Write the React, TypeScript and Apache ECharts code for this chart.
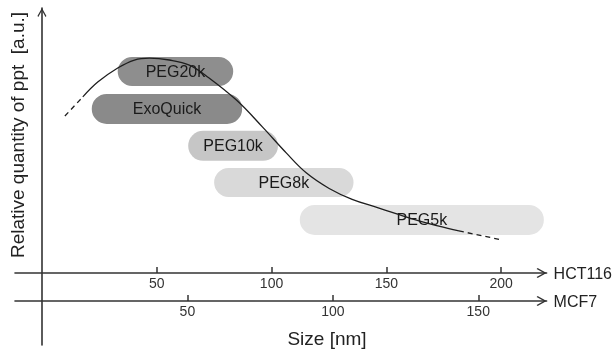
import React, { useEffect, useRef } from 'react';
import * as echarts from 'echarts';

// Bands (sizes in nm, read on the HCT116 scale; heights in a.u.)
const bandLabels = ['PEG20k', 'ExoQuick', 'PEG10k', 'PEG8k', 'PEG5k'];
const bandStart = [33.0, 21.7, 63.7, 75.0, 112.3];
const bandEnd = [83.3, 87.2, 102.8, 135.7, 218.6];
const bandTop = [81.5, 67.6, 53.7, 39.7, 25.8];
const bandBottom = [70.6, 56.3, 42.4, 28.8, 14.5];

// Precipitation curve (size in nm on HCT116 scale, relative quantity a.u.)
const curveX = [10.0, 17.8, 24.3, 33.0, 40.3, 46.8, 55.5, 64.2, 71.6, 84.7, 96.0, 106.4, 115.1, 125.1, 135.1, 146.8, 154.2, 164.2, 172.9, 181.6, 200.3];
const curveY = [59.3, 66.5, 72.1, 77.4, 80.4, 81.1, 80.4, 78.5, 74.4, 65.3, 55.2, 45.4, 37.9, 32.0, 27.9, 24.6, 22.5, 19.8, 17.8, 16.0, 12.6];

const hctTicks = [50, 100, 150, 200];
const mcfTicks = [50, 100, 150];

const bandColors = ['#8e8e8e', '#8a8a8a', '#c6c6c6', '#d9d9d9', '#e4e4e4'];
const FONT = '"Liberation Sans", Arial, sans-serif';
const AX = '#333333';
const CHEVRON = 'path://M0,9 L5,0 L10,9 L9,10 L5,2.8 L1,10 Z';

export default function App() {
  const ref = useRef<HTMLDivElement>(null);
  useEffect(() => {
    if (!ref.current) return;
    const chart = echarts.init(ref.current, undefined, { renderer: 'svg' });
    const pts = curveX.map((x, i) => [x, curveY[i]]);
    const n = pts.length;
    const mkX = (name: string, offset: number, min: number, max: number, ticks: number[]) => ({
      type: 'value',
      position: 'bottom',
      offset,
      min,
      max,
      name,
      nameLocation: 'end',
      nameGap: 7,
      nameTextStyle: { fontSize: 16, color: '#222', fontFamily: FONT },
      axisLine: {
        onZero: false,
        lineStyle: { color: AX, width: 1.6 },
        symbol: ['none', CHEVRON],
        symbolSize: [11, 10],
        symbolOffset: [0, -5],
      },
      axisTick: { show: true, inside: true, length: 6, customValues: ticks, lineStyle: { color: AX, width: 1.5 } },
      axisLabel: { customValues: ticks, fontSize: 14, color: '#333', margin: 3, fontFamily: FONT },
      splitLine: { show: false },
    });
    chart.setOption({
      animation: false,
      grid: { left: 15, top: 8, width: 533, height: 337, containLabel: false },
      xAxis: [
        mkX('HCT116', -72, -11.73, 219.8, hctTicks),
        mkX('MCF7', -44, -9.26, 173.5, mcfTicks),
      ],
      yAxis: {
        type: 'value',
        min: -27,
        max: 100,
        axisLine: {
          show: true,
          onZero: true,
          lineStyle: { color: AX, width: 1.6 },
          symbol: ['none', CHEVRON],
          symbolSize: [11, 9],
          symbolOffset: [0, -4.5],
        },
        axisTick: { show: false },
        axisLabel: { show: false },
        splitLine: { show: false },
      },
      series: [
        {
          type: 'custom',
          xAxisIndex: 0,
          clip: false,
          z: 1,
          encode: { x: [0, 1], y: [2, 3] },
          data: bandLabels.map((_, i) => [bandStart[i], bandEnd[i], bandTop[i], bandBottom[i]]),
          renderItem: (params: any, api: any) => {
            const i = params.dataIndex;
            const p0 = api.coord([api.value(0), api.value(2)]);
            const p1 = api.coord([api.value(1), api.value(3)]);
            const w = p1[0] - p0[0];
            const h = p1[1] - p0[1];
            return {
              type: 'group',
              children: [
                { type: 'rect', shape: { x: p0[0], y: p0[1], width: w, height: h, r: h / 2 }, style: { fill: bandColors[i] } },
                {
                  type: 'text',
                  style: {
                    text: bandLabels[i],
                    x: p0[0] + w / 2,
                    y: p0[1] + h / 2,
                    align: 'center',
                    verticalAlign: 'middle',
                    fill: '#1a1a1a',
                    fontSize: 16,
                    fontFamily: FONT,
                  },
                },
              ],
            };
          },
        },
        {
          type: 'line',
          xAxisIndex: 0,
          z: 5,
          data: pts.slice(1, n - 1),
          smooth: 0.4,
          showSymbol: false,
          symbol: 'none',
          lineStyle: { color: '#1e1e1e', width: 1.3 },
        },
        {
          type: 'line',
          xAxisIndex: 0,
          z: 5,
          data: pts.slice(0, 2),
          showSymbol: false,
          symbol: 'none',
          lineStyle: { color: '#1e1e1e', width: 1.3, type: [5, 4] },
        },
        {
          type: 'line',
          xAxisIndex: 0,
          z: 5,
          data: pts.slice(n - 2),
          showSymbol: false,
          symbol: 'none',
          lineStyle: { color: '#1e1e1e', width: 1.3, type: [5, 4] },
        },
      ],
      graphic: [
        {
          type: 'text',
          x: 17,
          y: 135,
          rotation: Math.PI / 2,
          style: {
            text: 'Relative quantity of ppt  [a.u.]',
            fontSize: 19,
            fontFamily: FONT,
            fill: '#222',
            align: 'center',
            verticalAlign: 'middle',
          },
        },
        {
          type: 'text',
          x: 327,
          y: 338,
          style: {
            text: 'Size [nm]',
            fontSize: 19,
            fontFamily: FONT,
            fill: '#222',
            align: 'center',
            verticalAlign: 'middle',
          },
        },
      ],
    });
    return () => chart.dispose();
  }, []);
  return <div ref={ref} style={{ position: 'fixed', left: 0, top: 0, width: 615, height: 353 }} />;
}
